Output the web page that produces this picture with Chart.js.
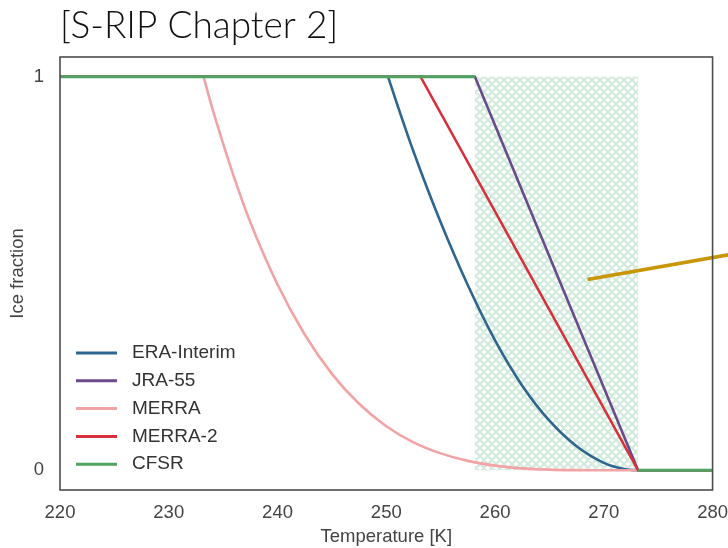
<!DOCTYPE html>
<html>
<head>
<meta charset="utf-8">
<title>Ice fraction</title>
<script src="https://cdn.jsdelivr.net/npm/chart.js@4.4.1/dist/chart.umd.min.js"></script>
<style>
  html, body { margin: 0; padding: 0; background: #fff; }
</style>
</head>
<body>
<canvas id="iceChart" width="728" height="548"></canvas>
<script>
// axis ticks
var tempTicks = [220, 230, 240, 250, 260, 270, 280];
var fracTicks = [0, 1];

// ERA-Interim (quadratic mixed phase, 250.16 - 273.16 K)
var eraT   = [250.16, 251, 252.5, 255, 257.5, 260, 262.5, 265, 267.5, 270, 272, 273.16];
var eraIce = [1, 0.93, 0.81, 0.63, 0.47, 0.33, 0.215, 0.126, 0.061, 0.019, 0.0025, 0];

// JRA-55 (linear)
var jraT   = [220, 258.15, 273.15, 280];
var jraIce = [1, 1, 0, 0];

// MERRA
var merraT   = [233.2, 234, 235, 236, 237.5, 240, 242.5, 245, 247.5, 250, 252.5, 255, 257.5, 260, 262.5, 265, 267.5, 270, 273.16];
var merraIce = [1, 0.92, 0.83, 0.745, 0.63, 0.472, 0.345, 0.245, 0.169, 0.112, 0.071, 0.043, 0.024, 0.012, 0.005, 0.0017, 0.0004, 0.0001, 0];

// MERRA-2 (linear)
var merra2T   = [220, 253.15, 273.15, 280];
var merra2Ice = [1, 1, 0, 0];

// CFSR: no single curve between 258.15 and 273.15 K
var cfsrT   = [220, 258.15, 265, 273.15, 280];
var cfsrIce = [1, 1, null, 0, 0];
var cfsrRange = [258.15, 273.15];

// pointer line
var pointerT   = [268.5, 283];
var pointerIce = [0.485, 0.555];

function pairs(xs, ys) {
    return xs.map(function (x, i) { return { x: x, y: ys[i] }; });
}

function makeHatch() {
    var n = 8;
    var c = document.createElement('canvas');
    c.width = n; c.height = n;
    var g = c.getContext('2d');
    g.strokeStyle = 'rgba(120,192,152,0.34)';
    g.lineWidth = 2.2;
    g.beginPath();
    [-n, 0, n].forEach(function (k) {
        g.moveTo(k, 0); g.lineTo(k + n, n);
        g.moveTo(k, n); g.lineTo(k + n, 0);
    });
    g.stroke();
    return c;
}

var hatchBand = {
    id: 'hatchBand',
    beforeDatasetsDraw: function (chart) {
        var ctx = chart.ctx, x = chart.scales.x, y = chart.scales.y;
        var x0 = x.getPixelForValue(cfsrRange[0]), x1 = x.getPixelForValue(cfsrRange[1]);
        var y0 = y.getPixelForValue(1), y1 = y.getPixelForValue(0);
        ctx.save();
        ctx.fillStyle = ctx.createPattern(makeHatch(), 'repeat');
        ctx.fillRect(x0, y0, x1 - x0, y1 - y0);
        ctx.restore();
    }
};

var frameBox = {
    id: 'frameBox',
    afterDatasetsDraw: function (chart) {
        var a = chart.chartArea, ctx = chart.ctx;
        ctx.save();
        ctx.strokeStyle = '#4d4d4d';
        ctx.lineWidth = 1.6;
        ctx.strokeRect(a.left, a.top, a.right - a.left, a.bottom - a.top);
        ctx.restore();
    }
};

var lineLegend = {
    id: 'lineLegend',
    afterDatasetsDraw: function (chart) {
        var ctx = chart.ctx, a = chart.chartArea;
        var items = chart.data.datasets.filter(function (d) { return d.label; });
        ctx.save();
        ctx.font = '19px "Liberation Sans", Arial, sans-serif';
        ctx.textBaseline = 'middle';
        items.forEach(function (d, i) {
            var yy = a.bottom - 137 + i * 27.8;
            ctx.strokeStyle = d.borderColor;
            ctx.lineWidth = 3;
            ctx.beginPath();
            ctx.moveTo(a.left + 16, yy);
            ctx.lineTo(a.left + 57, yy);
            ctx.stroke();
            ctx.fillStyle = '#333';
            ctx.fillText(d.label, a.left + 72, yy);
        });
        ctx.restore();
    }
};

var tickFont = { family: '"Liberation Sans", Arial, sans-serif', size: 18.5 };
var labelFont = { family: '"Liberation Sans", Arial, sans-serif', size: 18.5, lineHeight: 1.2 };

new Chart(document.getElementById('iceChart').getContext('2d'), {
    type: 'line',
    data: {
        datasets: [
            { label: 'ERA-Interim', data: pairs(eraT, eraIce), borderColor: '#2f6690', borderWidth: 2.6, cubicInterpolationMode: 'monotone', order: 5 },
            { label: 'JRA-55', data: pairs(jraT, jraIce), borderColor: '#6b4a8c', borderWidth: 2.6, order: 4 },
            { label: 'MERRA', data: pairs(merraT, merraIce), borderColor: '#f2a3a5', borderWidth: 2.6, cubicInterpolationMode: 'monotone', order: 3 },
            { label: 'MERRA-2', data: pairs(merra2T, merra2Ice), borderColor: '#d8303a', borderWidth: 2.6, order: 2 },
            { label: 'CFSR', data: pairs(cfsrT, cfsrIce), borderColor: '#4fa25f', borderWidth: 3, order: 1 },
            { data: pairs(pointerT, pointerIce), borderColor: '#c99608', borderWidth: 3.6, clip: false, order: 0 }
        ]
    },
    options: {
        responsive: false,
        animation: false,
        events: [],
        elements: { point: { radius: 0 }, line: { tension: 0, borderCapStyle: 'butt' } },
        layout: { padding: 0 },
        plugins: {
            legend: { display: false },
            tooltip: { enabled: false },
            title: {
                display: true,
                text: '[S-RIP Chapter 2]',
                align: 'start',
                fullSize: false,
                color: '#111',
                font: { family: 'Lato, "Liberation Sans", sans-serif', size: 37, weight: 300, lineHeight: 1.2 },
                padding: { top: 4, bottom: 8.6 }
            }
        },
        scales: {
            x: {
                type: 'linear',
                min: 220,
                max: 280,
                afterFit: function (s) { s.height = 58; },
                afterBuildTicks: function (s) { s.ticks = tempTicks.map(function (v) { return { value: v }; }); },
                grid: { display: false, drawTicks: true, tickLength: 12 },
                border: { display: false },
                ticks: { color: '#444', font: tickFont, padding: 0, maxRotation: 0 },
                title: { display: true, text: 'Temperature [K]', color: '#444', font: labelFont, padding: { top: 0, bottom: 0 } }
            },
            y: {
                type: 'linear',
                min: -0.05,
                max: 1.05,
                afterFit: function (s) { s.width = 60; },
                afterBuildTicks: function (s) { s.ticks = fracTicks.map(function (v) { return { value: v }; }); },
                grid: { display: false, drawTicks: true, tickLength: 16 },
                border: { display: false },
                ticks: { color: '#444', font: tickFont, padding: 0 },
                title: { display: true, text: 'Ice fraction', color: '#444', font: labelFont, padding: { top: 7, bottom: 7 } }
            }
        }
    },
    plugins: [hatchBand, frameBox, lineLegend]
});
</script>
</body>
</html>
